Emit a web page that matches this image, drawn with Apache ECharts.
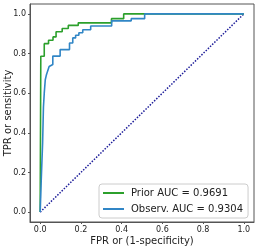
<!DOCTYPE html>
<html><head><meta charset="utf-8">
<script src="https://cdn.jsdelivr.net/npm/echarts@6/dist/echarts.min.js"></script>
<style>html,body{margin:0;padding:0;background:#fff}#c{width:258px;height:247px}</style>
</head><body><div id="c"></div>
<script>
const tickValues = [0, 0.2, 0.4, 0.6, 0.8, 1.0];
const tickLabels = ['0.0', '0.2', '0.4', '0.6', '0.8', '1.0'];
const seriesNames = ['Prior AUC = 0.9691', 'Observ. AUC = 0.9304'];
const priorFpr = [0, 0.003, 0.003, 0.02, 0.02, 0.041, 0.041, 0.063, 0.063, 0.078, 0.078, 0.108, 0.108, 0.138, 0.138, 0.187, 0.187, 0.35, 0.35, 0.41, 0.41, 1];
const priorTpr = [0, 0, 0.786, 0.786, 0.85, 0.85, 0.867, 0.867, 0.884, 0.884, 0.91, 0.91, 0.926, 0.926, 0.942, 0.942, 0.955, 0.955, 0.976, 0.976, 1, 1];
const observFpr = [0, 0.005, 0.012, 0.012, 0.016, 0.016, 0.02, 0.02, 0.025, 0.025, 0.03, 0.03, 0.036, 0.036, 0.044, 0.044, 0.052, 0.052, 0.062, 0.062, 0.098, 0.098, 0.144, 0.144, 0.16, 0.16, 0.174, 0.174, 0.19, 0.19, 0.209, 0.209, 0.248, 0.248, 0.351, 0.351, 0.447, 0.447, 0.513, 0.513, 1];
const observTpr = [0, 0.155, 0.155, 0.35, 0.35, 0.53, 0.53, 0.6, 0.6, 0.668, 0.668, 0.69, 0.69, 0.71, 0.71, 0.735, 0.735, 0.745, 0.745, 0.787, 0.787, 0.82, 0.82, 0.853, 0.853, 0.879, 0.879, 0.892, 0.892, 0.905, 0.905, 0.92, 0.92, 0.939, 0.939, 0.965, 0.965, 0.976, 0.976, 1, 1];
const diagX = [0, 1];
const diagY = [0, 1];

const zip = (a, b) => a.map((v, i) => [v, b[i]]);
const font = 'DejaVu Sans';
const chart = echarts.init(document.getElementById('c'), null, {renderer: 'canvas'});
const fmt = v => { const i = tickValues.findIndex(t => Math.abs(t - v) < 1e-9); return i >= 0 ? tickLabels[i] : ''; };
const axisCommon = {
  type: 'value', min: -0.05, max: 1.05,
  splitLine: {show: false},
  axisLine: {show: true, onZero: false, lineStyle: {color: '#555', width: 1}},
  axisTick: {show: true, length: 2, lineStyle: {color: '#555'}, customValues: tickValues},
  axisLabel: {customValues: tickValues, formatter: fmt, fontFamily: font, fontSize: 8, color: '#222', margin: 4},
  nameLocation: 'middle',
  nameMoveOverlap: false,
  nameTextStyle: {fontFamily: font, fontSize: 10, color: '#222'}
};
chart.setOption({
  animation: false,
  grid: {left: 30, top: 4, right: 4, bottom: 25, containLabel: false, outerBoundsMode: 'none', show: true, borderColor: '#555', borderWidth: 1, backgroundColor: 'transparent'},
  xAxis: Object.assign({}, axisCommon, {name: 'FPR or (1-specificity)', nameGap: 14}),
  yAxis: Object.assign({}, axisCommon, {name: 'TPR or sensitivity', nameGap: 17}),
  legend: {
    data: seriesNames.map(n => ({name: n, icon: 'rect'})),
    orient: 'vertical', left: 99, top: 184,
    itemWidth: 21, itemHeight: 2, itemGap: 4,
    padding: [3, 5, 3, 4],
    borderColor: '#ccc', borderWidth: 1, borderRadius: 3,
    backgroundColor: 'rgba(255,255,255,0.85)',
    textStyle: {fontFamily: font, fontSize: 10, lineHeight: 12, color: '#222', padding: [0, 0, 0, 2]}
  },
  series: [
    {name: 'diag', type: 'line', data: zip(diagX, diagY), symbol: 'none', lineStyle: {color: '#1c1c99', width: 1.5, type: [1.5, 1.5]}, z: 1},
    {name: seriesNames[0], type: 'line', data: zip(priorFpr, priorTpr), symbol: 'none', lineStyle: {color: '#2ca02c', width: 1.6}, itemStyle: {color: '#2ca02c'}, z: 2},
    {name: seriesNames[1], type: 'line', data: zip(observFpr, observTpr), symbol: 'none', lineStyle: {color: '#3186c6', width: 1.6}, itemStyle: {color: '#3186c6'}, z: 3}
  ]
});
</script></body></html>
